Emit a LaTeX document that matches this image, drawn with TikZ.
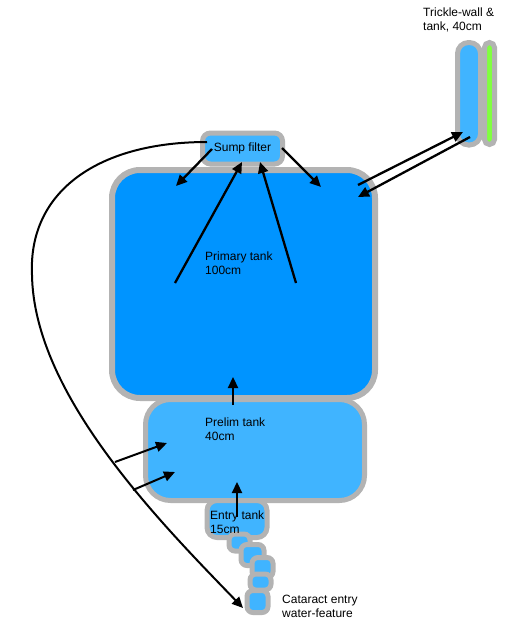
\documentclass[tikz,border=0pt]{standalone}
\usepackage{fontspec}
\setmainfont{Liberation Sans}
\usetikzlibrary{arrows.meta}

\definecolor{tankblue}{RGB}{0,148,255}
\definecolor{lightblue}{RGB}{64,180,255}
\definecolor{rimgray}{RGB}{179,179,179}
\definecolor{wallgreen}{RGB}{128,255,64}

\tikzset{
	tank/.style={shape=rectangle, draw=rimgray, line width=5pt, inner sep=0pt},
	cascade/.style={tank, fill=lightblue, rounded corners=6pt},
	flow/.style={-{Triangle[length=11pt,width=10pt]}, line width=2.3pt},
	tanktext/.style={anchor=north west, align=left, inner sep=0pt, font=\fontsize{12}{14}\selectfont},
}

\begin{document}
\begin{tikzpicture}[x=1pt, y=-1pt]
	\useasboundingbox (0,0) rectangle (526,640);
	% Tanks:
	\node[tank, fill=tankblue, line width=6pt, rounded corners=28pt, minimum width=263pt, minimum height=228pt] (primary) at (243.5,284){};
	\node[tank, fill=lightblue, rounded corners=25pt, minimum width=219pt, minimum height=101pt] (prelim) at (255,450){};
	\node[tank, fill=lightblue, rounded corners=10pt, minimum width=60pt, minimum height=37pt] (entry) at (237,519){};
	\node[cascade, minimum width=21pt, minimum height=17pt] (cas1) at (239.5,542.5){};
	\node[cascade, minimum width=23pt, minimum height=21pt] (cas2) at (252.5,555){};
	\node[cascade, minimum width=21pt, minimum height=20pt] (cas3) at (262.5,567.5){};
	\node[cascade, minimum width=21pt, minimum height=16pt] (cas4) at (260.5,582){};
	\node[cascade, minimum width=21pt, minimum height=22pt] (cas5) at (257.5,601.5){};
	\node[tank, fill=lightblue, rounded corners=8pt, minimum width=80pt, minimum height=31pt, font=\fontsize{12}{14}\selectfont] (sump) at (242.5,148.5){Sump filter};
	\node[tank, fill=wallgreen, rounded corners=5pt, minimum width=10pt, minimum height=102pt] (wall) at (489.5,93.5){};
	\node[tank, fill=lightblue, rounded corners=11pt, minimum width=23pt, minimum height=102.5pt] (trickle) at (469,93.75){};
	% Labels:
	\node[tanktext] (primarylabel) at (205,252){Primary tank\\100cm};
	\node[tanktext] (prelimlabel) at (205,418){Prelim tank\\40cm};
	\node[tanktext] (entrylabel) at (210,511){Entry tank\\15cm};
	\node[tanktext] (cataractlabel) at (282,595){Cataract entry\\water-feature};
	\node[tanktext] (tricklelabel) at (423,8){Trickle-wall \&\\tank, 40cm};
	% Flow ends:
	\coordinate (sump-l) at (212,149);
	\coordinate (sump-r) at (282,148);
	\coordinate (prim-l) at (176,186);
	\coordinate (prim-r) at (321,187);
	\coordinate (rise-l) at (175,283);
	\coordinate (rise-r) at (296,283);
	\coordinate (sump-bl) at (242,162);
	\coordinate (sump-br) at (260,162);
	\coordinate (prim-b) at (233,377);
	\coordinate (prel-t) at (233,405);
	\coordinate (prel-b) at (237,482);
	\coordinate (entr-t) at (237,517);
	\coordinate (prim-tr) at (358,185);
	\coordinate (prim-tr2) at (358,197);
	\coordinate (tric-in) at (463,132);
	\coordinate (tric-out) at (470,137);
	\coordinate (pipe-1) at (115,462);
	\coordinate (pipe-2) at (133,490);
	\coordinate (prel-l1) at (167,443);
	\coordinate (prel-l2) at (175,472);
	\coordinate (ret-start) at (207,142);
	\coordinate (ret-end) at (243,608);
	% Flows:
	\draw[flow] (sump-l) -- (prim-l);
	\draw[flow] (sump-r) -- (prim-r);
	\draw[flow] (rise-l) -- (sump-bl);
	\draw[flow] (rise-r) -- (sump-br);
	\draw[flow] (prel-t) -- (prim-b);
	\draw[flow] (entr-t) -- (prel-b);
	\draw[flow] (prim-tr) -- (tric-in);
	\draw[flow] (tric-out) -- (prim-tr2);
	\draw[flow, line width=2pt] (pipe-1) -- (prel-l1);
	\draw[flow, line width=2pt] (pipe-2) -- (prel-l2);
	\draw[flow, line width=2pt] (ret-start) .. controls (100,142) and (28,190) .. (32,275) .. controls (34,395) and (160,522) .. (ret-end);
\end{tikzpicture}
\end{document}
